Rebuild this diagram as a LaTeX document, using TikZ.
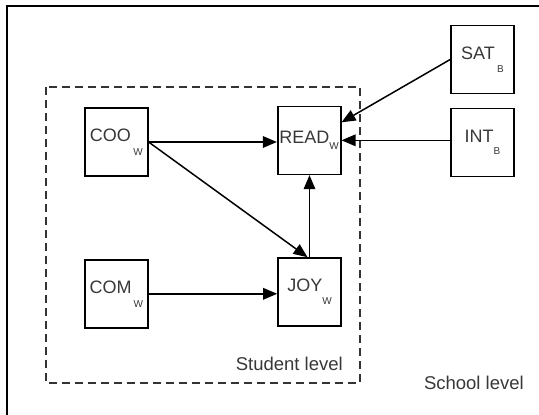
\documentclass[tikz,border=0pt]{standalone}
\usepackage{fontspec}
\setmainfont{Liberation Sans}
\usetikzlibrary{arrows.meta}
\newcommand{\subw}[2]{\hspace{#1}\raisebox{-#2}{\fontsize{10}{10}\selectfont W}}
\newcommand{\subb}[2]{\hspace{#1}\raisebox{-#2}{\fontsize{10}{10}\selectfont B}}
\tikzset{
  varbox/.style={draw=black, line width=1.6pt, minimum width=63pt, minimum height=68pt,
    inner sep=0pt, text=black!78, font=\fontsize{18}{18}\selectfont},
  link/.style={draw=black, line width=1.5pt, -{Triangle[length=14pt,width=11.5pt]}},
  levelbox/.style={draw=black!80, line width=1.5pt, dash pattern=on 8pt off 5pt},
  leveltext/.style={text=black!78, font=\fontsize{18.5}{18.5}\selectfont, inner sep=0pt, anchor=base east}
}
\begin{document}
\begin{tikzpicture}[x=1pt,y=-1pt]
\useasboundingbox (0,0) rectangle (539,415);
% outer frame (school level)
\draw[line width=2pt] (7,415) -- (7,6) -- (539,6);
% student level dashed box
\draw[levelbox] (46,87) rectangle (360,383);
% nodes
\node[varbox] (COO) at (116.3,142) {COO\subw{2.5pt}{14pt}};
\node[varbox] (READ) at (309.2,140.3) {READ\subw{0pt}{6.6pt}};
\node[varbox] (COM) at (116.3,293.8) {COM\subw{2pt}{14pt}};
\node[varbox] (JOY) at (309.5,292) {JOY\subw{0pt}{12.6pt}};
\node[varbox] (SAT) at (482.5,59.5) {SAT\subb{2.4pt}{12.6pt}};
\node[varbox] (INT) at (482.5,142.5) {INT\subb{0pt}{11.7pt}};
\node[leveltext] (student) at (343,370) {Student level};
\node[leveltext] (school) at (524,389.3) {School level};
% connectors
\draw[link] (COO.east) -- (COO.east -| READ.west);
\draw[link] (COO.east) -- ([xshift=-2pt]JOY.north);
\draw[link] (JOY.north) -- (JOY.north |- READ.south);
\draw[link] (COM.east) -- (COM.east -| JOY.west);
\draw[link] (SAT.west) -- ([yshift=18pt]READ.east);
\draw[link] (INT.west |- READ.east) -- (READ.east);
\end{tikzpicture}
\end{document}
